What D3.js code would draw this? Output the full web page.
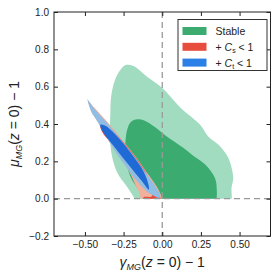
<!DOCTYPE html>
<html>
<head>
<meta charset="utf-8">
<script src="https://cdn.jsdelivr.net/npm/d3@7"></script>
<style>
  body { margin: 0; background: white; }
  svg { display: block; font-family: "Liberation Sans", Arial, sans-serif; }
</style>
</head>
<body>
<div id="graf"></div>
<script>
// Contornos (gamma_MG - 1, mu_MG - 1)
const stable95 = [
  [-0.24, 0.715], [-0.19, 0.712], [-0.10, 0.655], [0.00, 0.593], [0.12, 0.486],
  [0.245, 0.396], [0.30, 0.33], [0.362, 0.29], [0.426, 0.22], [0.459, 0.112],
  [0.448, 0.059], [0.44, -0.02], [0.30, -0.06], [0.0, -0.06], [-0.15, -0.03],
  [-0.19, 0.016], [-0.23, 0.066], [-0.29, 0.138], [-0.325, 0.227], [-0.338, 0.33],
  [-0.336, 0.45], [-0.33, 0.55], [-0.305, 0.637], [-0.27, 0.69]
]

const stable68 = [
  [-0.16, 0.425], [-0.12, 0.42], [-0.05, 0.385], [0.0, 0.352], [0.07, 0.31],
  [0.138, 0.271], [0.20, 0.23], [0.276, 0.184], [0.34, 0.112], [0.352, 0.059],
  [0.345, -0.02], [0.30, -0.06], [0.0, -0.06], [-0.10, -0.03], [-0.14, 0.03],
  [-0.207, 0.12], [-0.239, 0.227], [-0.238, 0.307], [-0.228, 0.365], [-0.205, 0.41]
]

const cs95 = [
  [-0.479, 0.522], [-0.442, 0.49], [-0.398, 0.45], [-0.339, 0.396], [-0.252, 0.307],
  [-0.166, 0.218], [-0.09, 0.129], [-0.037, 0.066], [-0.006, 0.012], [-0.004, -0.02],
  [-0.125, -0.02], [-0.15, 0.035], [-0.172, 0.07], [-0.195, 0.115], [-0.228, 0.164],
  [-0.304, 0.253], [-0.368, 0.343], [-0.433, 0.432], [-0.456, 0.462]
]

const cs68 = [
  [-0.40, 0.396], [-0.362, 0.396], [-0.275, 0.325], [-0.187, 0.236], [-0.11, 0.146],
  [-0.065, 0.075], [-0.03, 0.03], [-0.012, 0.005], [-0.015, -0.02], [-0.125, -0.02],
  [-0.12, 0.007], [-0.07, 0.012], [-0.06, 0.04], [-0.131, 0.093], [-0.218, 0.182],
  [-0.304, 0.272], [-0.39, 0.36]
]

const ct95 = [
  [-0.484, 0.532], [-0.447, 0.49], [-0.405, 0.45], [-0.347, 0.396], [-0.260, 0.307],
  [-0.174, 0.218], [-0.099, 0.129], [-0.045, 0.066], [-0.013, 0.012], [-0.024, 0.003],
  [-0.034, 0.007], [-0.099, 0.039], [-0.163, 0.093], [-0.228, 0.164], [-0.304, 0.253],
  [-0.368, 0.343], [-0.433, 0.432], [-0.456, 0.462], [-0.474, 0.502]
]

const ct68 = [
  [-0.40, 0.396], [-0.368, 0.39], [-0.282, 0.325], [-0.196, 0.236], [-0.121, 0.146],
  [-0.089, 0.075], [-0.087, 0.048], [-0.131, 0.093], [-0.218, 0.182], [-0.304, 0.272],
  [-0.385, 0.36]
]

const xTicks = [-0.5, -0.25, 0, 0.25, 0.5]
const yTicks = [-0.2, 0, 0.2, 0.4, 0.6, 0.8, 1.0]
const leyenda = ['Stable', 'Cs', 'Ct']

const colores = {
  stable95: '#a2dcc0',
  stable68: '#3bab70',
  cs95: '#f1b09c',
  cs68: '#e74c3c',
  ct95: '#8fbde3',
  ct68: '#1f6ad4'
}
const coloresLeyenda = ['#3bab70', '#e74c3c', '#2a80e6']

// Dimensiones
const anchoTotal = 278
const altoTotal = 279
const margins = { top: 12, right: 7.5, bottom: 43, left: 54 }
const ancho = anchoTotal - margins.left - margins.right
const alto = altoTotal - margins.top - margins.bottom

const svg = d3.select('#graf')
  .append('svg')
  .attr('width', anchoTotal)
  .attr('height', altoTotal)

const g = svg.append('g')
  .attr('transform', `translate(${margins.left}, ${margins.top})`)

// Escaladores
const x = d3.scaleLinear().domain([-0.7, 0.7]).range([0, ancho])
const y = d3.scaleLinear().domain([-0.2, 1.0]).range([alto, 0])

// Recorte en mu >= 0
svg.append('defs')
  .append('clipPath')
  .attr('id', 'recorte')
  .append('rect')
  .attr('x', 0)
  .attr('y', 0)
  .attr('width', ancho)
  .attr('height', y(0))

const linea = d3.line()
  .x((d) => x(d[0]))
  .y((d) => y(d[1]))
  .curve(d3.curveCatmullRomClosed.alpha(0.5))

const capas = [
  { data: stable95, fill: colores.stable95 },
  { data: stable68, fill: colores.stable68 },
  { data: cs95, fill: colores.cs95 },
  { data: cs68, fill: colores.cs68 },
  { data: ct95, fill: colores.ct95 },
  { data: ct68, fill: colores.ct68 }
]

g.append('g')
  .attr('clip-path', 'url(#recorte)')
  .selectAll('path')
  .data(capas)
  .enter()
  .append('path')
  .attr('d', (d) => linea(d.data))
  .attr('fill', (d) => d.fill)

// Lineas de referencia
g.append('line')
  .attr('x1', x(0)).attr('x2', x(0))
  .attr('y1', 0).attr('y2', alto)
  .attr('stroke', '#999')
  .attr('stroke-width', 1.3)
  .attr('stroke-dasharray', '6,4')

g.append('line')
  .attr('x1', 0).attr('x2', ancho)
  .attr('y1', y(0)).attr('y2', y(0))
  .attr('stroke', '#999')
  .attr('stroke-width', 1.3)
  .attr('stroke-dasharray', '6,4')

// Ejes
const fmtX = d3.format('.2f')
const fmtY = d3.format('.1f')

const estiloEje = (sel) => {
  sel.select('.domain').remove()
  sel.selectAll('line').attr('stroke', '#222')
  sel.selectAll('text')
    .attr('fill', '#222')
    .style('font-size', '10px')
    .style('font-family', '"Liberation Sans", Arial, sans-serif')
}

g.append('g')
  .attr('transform', `translate(0, ${alto})`)
  .call(d3.axisBottom(x).tickValues(xTicks).tickFormat(fmtX).tickSizeInner(-4).tickSizeOuter(0).tickPadding(5))
  .call(estiloEje)

g.append('g')
  .call(d3.axisTop(x).tickValues(xTicks).tickFormat('').tickSizeInner(-4).tickSizeOuter(0))
  .call(estiloEje)

g.append('g')
  .call(d3.axisLeft(y).tickValues(yTicks).tickFormat(fmtY).tickSizeInner(-4).tickSizeOuter(0).tickPadding(5))
  .call(estiloEje)

g.append('g')
  .attr('transform', `translate(${ancho}, 0)`)
  .call(d3.axisRight(y).tickValues(yTicks).tickFormat('').tickSizeInner(-4).tickSizeOuter(0))
  .call(estiloEje)

// Marco
g.append('rect')
  .attr('width', ancho)
  .attr('height', alto)
  .attr('fill', 'none')
  .attr('stroke', '#222')
  .attr('stroke-width', 1)

// Etiquetas de ejes
const etiqueta = (sel, letra) => {
  sel.append('tspan').style('font-style', 'italic').text(letra)
  sel.append('tspan').style('font-style', 'italic').attr('font-size', 9).attr('dy', 3).text('MG')
  sel.append('tspan').attr('dy', -3).text('(')
  sel.append('tspan').style('font-style', 'italic').text('z')
  sel.append('tspan').text(' = 0) \u2212 1')
}

svg.append('text')
  .attr('x', margins.left + x(0))
  .attr('y', 267)
  .attr('text-anchor', 'middle')
  .attr('font-size', 14)
  .attr('fill', '#222')
  .call(etiqueta, 'γ')

svg.append('text')
  .attr('transform', `translate(19, ${margins.top + alto / 2}) rotate(-90)`)
  .attr('text-anchor', 'middle')
  .attr('font-size', 14)
  .attr('fill', '#222')
  .call(etiqueta, 'μ')

// Leyenda
const leg = svg.append('g').attr('transform', 'translate(178, 19.5)')

leg.append('rect')
  .attr('width', 89)
  .attr('height', 51)
  .attr('fill', 'white')
  .attr('stroke', '#333')
  .attr('stroke-width', 1)

const filas = leg.selectAll('.fila')
  .data(leyenda)
  .enter()
  .append('g')
  .attr('class', 'fila')
  .attr('transform', (d, i) => `translate(0, ${7.5 + i * 15.8})`)

filas.append('rect')
  .attr('x', 4.5)
  .attr('width', 24)
  .attr('height', 8)
  .attr('fill', (d, i) => coloresLeyenda[i])

filas.each(function (d) {
  const t = d3.select(this).append('text')
    .attr('x', 37.5)
    .attr('y', 8)
    .attr('font-size', 10.5)
    .attr('fill', '#222')
  if (d === 'Stable') {
    t.text('Stable')
  } else {
    t.append('tspan').text('+ ')
    t.append('tspan').style('font-style', 'italic').text('C')
    t.append('tspan').attr('font-size', 7).attr('dy', 2).text(d === 'Cs' ? 's' : 't')
    t.append('tspan').attr('dy', -2).text(' < 1')
  }
})
</script>
</body>
</html>
